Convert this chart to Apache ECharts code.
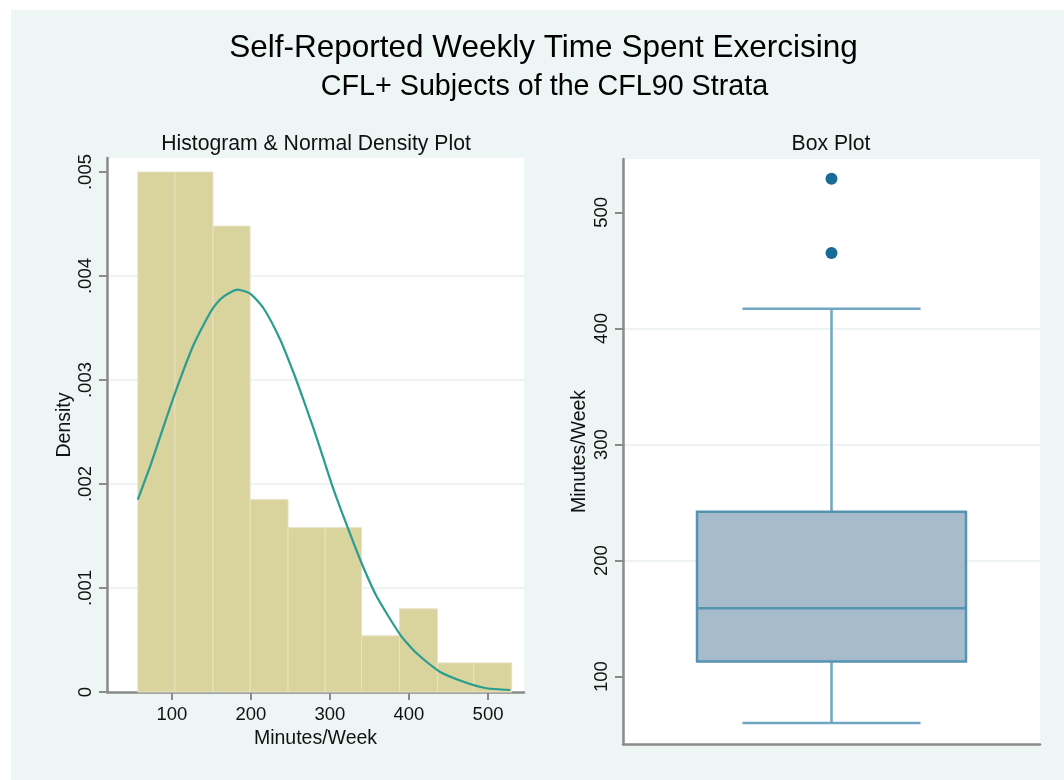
<!DOCTYPE html>
<html>
<head>
<meta charset="utf-8">
<script src="https://cdn.jsdelivr.net/npm/echarts@6/dist/echarts.min.js"></script>
<style>
  html, body { margin: 0; padding: 0; background: #ffffff; }
  #bg { position: absolute; left: 11px; top: 10px; width: 1053px; height: 770px; background: #edf5f5; }
  #main { position: absolute; left: 0; top: 0; width: 1064px; height: 780px; }
</style>
</head>
<body>
<div id="bg"></div>
<div id="main"></div>
<script>
// ---- data ----
const binEdges = [57, 104, 152, 199, 247, 294, 340, 388, 436, 482, 530];
const binDensity = [0.00500, 0.00500, 0.00448, 0.00185, 0.00158, 0.00158, 0.00054, 0.00080, 0.00028, 0.00028];

const curveX = [57, 73, 89, 102, 115, 127, 140, 153, 165, 183, 199, 216, 237, 254, 266, 279, 292, 304, 323, 340, 359, 389, 410, 439, 469, 498, 528];
const curveY = [0.00185, 0.00218, 0.00254, 0.00283, 0.00310, 0.00333, 0.00353, 0.00370, 0.00380, 0.00387, 0.00383, 0.00369, 0.00339, 0.00307, 0.00282, 0.00254, 0.00224, 0.00196, 0.00157, 0.00124, 0.00092, 0.00055, 0.00037, 0.000195, 0.000099, 0.000036, 0.000019];

const densityTicks = [0, 0.001, 0.002, 0.003, 0.004, 0.005];
const densityTickLabels = ['0', '.001', '.002', '.003', '.004', '.005'];
const minuteTicks = [100, 200, 300, 400, 500];
const minuteTickLabels = ['100', '200', '300', '400', '500'];

const boxStats = [60, 113, 159, 242, 417];   // min, q1, median, q3, max (whiskers)
const outliers = [465, 529];

// ---- chart ----
const FONT = "'Liberation Sans', Arial, Helvetica, sans-serif";
const AXIS_COLOR = '#8a8a8a';
const GRID_LINE = '#edf3f3';

const histData = binDensity.map((d, i) => [binEdges[i], binEdges[i + 1], d]);
const curveData = curveX.map((x, i) => [x, curveY[i]]);
const boxData = [[0.5].concat(boxStats)];
const outlierData = outliers.map(v => [0.5, v]);

function labelFor(ticks, labels) {
  return function (v) {
    let best = 0, bd = Infinity;
    ticks.forEach((t, i) => { const d = Math.abs(t - v); if (d < bd) { bd = d; best = i; } });
    return labels[best];
  };
}

const chart = echarts.init(document.getElementById('main'), null, { renderer: 'canvas' });

const option = {
  animation: false,
  backgroundColor: 'transparent',
  title: [
    { text: 'Self-Reported Weekly Time Spent Exercising', left: 543.5, top: 48, padding: 0,
      textAlign: 'center', textVerticalAlign: 'middle',
      textStyle: { fontFamily: FONT, fontSize: 31.5, fontWeight: 'normal', color: '#000' } },
    { text: 'CFL+ Subjects of the CFL90 Strata', left: 544.5, top: 87, padding: 0,
      textAlign: 'center', textVerticalAlign: 'middle',
      textStyle: { fontFamily: FONT, fontSize: 28.7, fontWeight: 'normal', color: '#000' } },
    { text: 'Histogram & Normal Density Plot', left: 316, top: 144, padding: 0,
      textAlign: 'center', textVerticalAlign: 'middle',
      textStyle: { fontFamily: FONT, fontSize: 21.2, fontWeight: 'normal', color: '#111' } },
    { text: 'Box Plot', left: 831, top: 144, padding: 0,
      textAlign: 'center', textVerticalAlign: 'middle',
      textStyle: { fontFamily: FONT, fontSize: 21.2, fontWeight: 'normal', color: '#111' } }
  ],
  grid: [
    { left: 107, right: 1064 - 524, top: 158, bottom: 780 - 692, show: true, backgroundColor: '#ffffff', borderWidth: 0 },
    { left: 623, right: 1064 - 1040, top: 159, bottom: 780 - 744, show: true, backgroundColor: '#ffffff', borderWidth: 0 }
  ],
  xAxis: [
    {
      gridIndex: 0, type: 'value', min: 18, max: 545.5,
      name: 'Minutes/Week', nameLocation: 'middle', nameGap: 34,
      nameTextStyle: { fontFamily: FONT, fontSize: 19.5, color: '#111' },
      axisLine: { show: true, onZero: false, lineStyle: { color: AXIS_COLOR, width: 2.5 } },
      axisTick: { show: true, length: 8, customValues: minuteTicks, lineStyle: { color: AXIS_COLOR, width: 2 } },
      axisLabel: { customValues: minuteTicks, formatter: labelFor(minuteTicks, minuteTickLabels), margin: 13,
                   fontFamily: FONT, fontSize: 18.5, color: '#111' },
      splitLine: { show: false }
    },
    {
      gridIndex: 1, type: 'value', min: 0, max: 1,
      axisLine: { show: true, onZero: false, lineStyle: { color: AXIS_COLOR, width: 2.5 } },
      axisTick: { show: false }, axisLabel: { show: false }, splitLine: { show: false }
    }
  ],
  yAxis: [
    {
      gridIndex: 0, type: 'value', min: 0, max: 0.005135,
      name: 'Density', nameLocation: 'middle', nameGap: 32,
      nameTextStyle: { fontFamily: FONT, fontSize: 19.5, color: '#111' },
      axisLine: { show: true, onZero: false, lineStyle: { color: AXIS_COLOR, width: 2.5 } },
      axisTick: { show: true, length: 8, customValues: densityTicks, lineStyle: { color: AXIS_COLOR, width: 2 } },
      axisLabel: { customValues: densityTicks, formatter: labelFor(densityTicks, densityTickLabels), rotate: 90, margin: 12,
                   fontFamily: FONT, fontSize: 18.5, color: '#111' },
      splitLine: { show: true, showMinLine: false, showMaxLine: false, lineStyle: { color: GRID_LINE, width: 2 } }
    },
    {
      gridIndex: 1, type: 'value', min: 42, max: 546,
      name: 'Minutes/Week', nameLocation: 'middle', nameGap: 33,
      nameTextStyle: { fontFamily: FONT, fontSize: 19.5, color: '#111' },
      axisLine: { show: true, onZero: false, lineStyle: { color: AXIS_COLOR, width: 2.5 } },
      axisTick: { show: true, length: 8, customValues: minuteTicks, lineStyle: { color: AXIS_COLOR, width: 2 } },
      axisLabel: { customValues: minuteTicks, formatter: labelFor(minuteTicks, minuteTickLabels), rotate: 90, margin: 12,
                   fontFamily: FONT, fontSize: 18.5, color: '#111' },
      splitLine: { show: true, showMinLine: false, showMaxLine: false, lineStyle: { color: GRID_LINE, width: 2 } }
    }
  ],
  series: [
    {
      type: 'custom', name: 'Histogram', xAxisIndex: 0, yAxisIndex: 0,
      data: histData, encode: { x: [0, 1], y: 2 }, z: 2,
      renderItem: function (params, api) {
        const p0 = api.coord([api.value(0), 0]);
        const p1 = api.coord([api.value(1), api.value(2)]);
        return {
          type: 'rect',
          shape: { x: p0[0], y: p1[1], width: p1[0] - p0[0], height: p0[1] - p1[1] },
          style: { fill: '#d9d39d', stroke: '#e7e3c2', lineWidth: 1 }
        };
      }
    },
    {
      type: 'line', name: 'Normal density', xAxisIndex: 0, yAxisIndex: 0,
      data: curveData, showSymbol: false, smooth: 0.2, z: 5,
      lineStyle: { color: '#2a9d90', width: 2.2 }
    },
    {
      type: 'custom', name: 'Box', xAxisIndex: 1, yAxisIndex: 1,
      data: boxData, encode: { x: 0, y: [1, 2, 3, 4, 5] }, z: 3,
      renderItem: function (params, api) {
        const cx = api.value(0);
        const lo = api.value(1), q1 = api.value(2), med = api.value(3), q3 = api.value(4), hi = api.value(5);
        const boxHalf = 0.3225, capHalf = 0.2135;
        const c = (dx, v) => api.coord([cx + dx, v]);
        const whisker = { stroke: '#71a6c2', lineWidth: 2.5 };
        const edge = { stroke: '#5692b2', lineWidth: 2.5 };
        const tl = c(-boxHalf, q3), br = c(boxHalf, q1);
        return {
          type: 'group',
          children: [
            { type: 'line', shape: { x1: c(0, lo)[0], y1: c(0, lo)[1], x2: c(0, q1)[0], y2: c(0, q1)[1] }, style: whisker },
            { type: 'line', shape: { x1: c(0, q3)[0], y1: c(0, q3)[1], x2: c(0, hi)[0], y2: c(0, hi)[1] }, style: whisker },
            { type: 'line', shape: { x1: c(-capHalf, lo)[0], y1: c(-capHalf, lo)[1], x2: c(capHalf, lo)[0], y2: c(capHalf, lo)[1] }, style: whisker },
            { type: 'line', shape: { x1: c(-capHalf, hi)[0], y1: c(-capHalf, hi)[1], x2: c(capHalf, hi)[0], y2: c(capHalf, hi)[1] }, style: whisker },
            { type: 'rect', shape: { x: tl[0], y: tl[1], width: br[0] - tl[0], height: br[1] - tl[1] },
              style: { fill: '#a6bccc', stroke: '#5692b2', lineWidth: 2.5 } },
            { type: 'line', shape: { x1: c(-boxHalf, med)[0], y1: c(-boxHalf, med)[1], x2: c(boxHalf, med)[0], y2: c(boxHalf, med)[1] }, style: edge }
          ]
        };
      }
    },
    {
      type: 'scatter', name: 'Outliers', xAxisIndex: 1, yAxisIndex: 1,
      data: outlierData, symbol: 'circle', symbolSize: 12, z: 6,
      itemStyle: { color: '#176b97', opacity: 1 }
    }
  ]
};

chart.setOption(option);
</script>
</body>
</html>
